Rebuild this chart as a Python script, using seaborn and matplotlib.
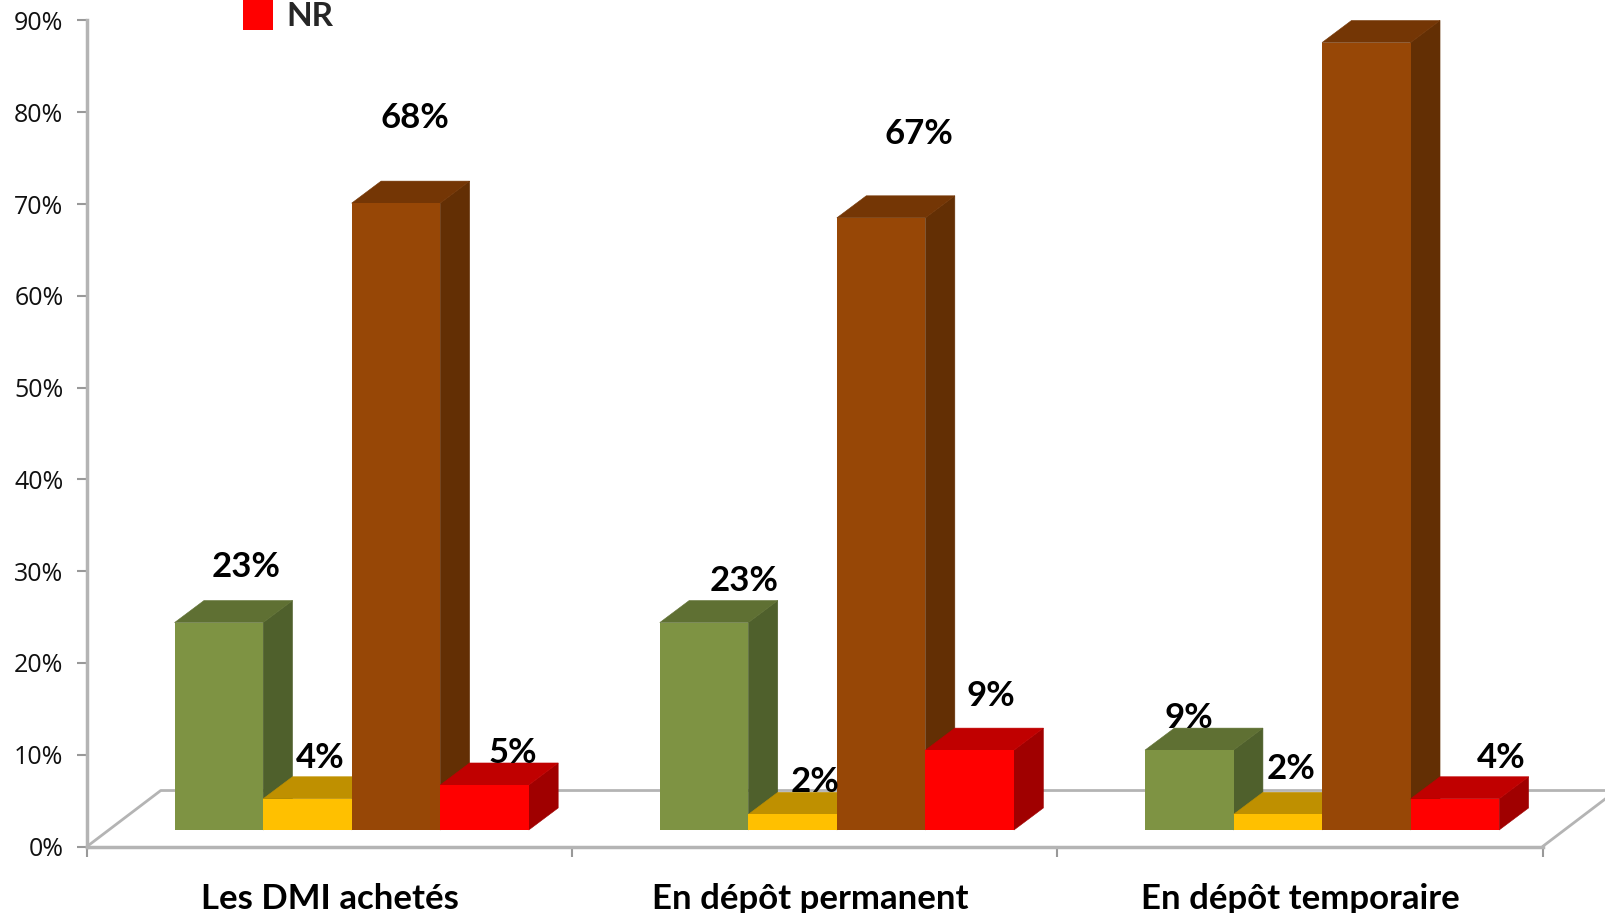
import matplotlib
matplotlib.use('Agg')
import matplotlib.pyplot as plt
from matplotlib.patches import Patch, Polygon
import pandas as pd
import seaborn as sns

# Bar heights (% of answers)
categories = ['Les DMI achetés', 'En dépôt permanent', 'En dépôt temporaire']
series_names = ['Série 1', 'Série 2', 'Série 3', 'NR']
serie_1 = [22.6, 22.6, 8.7]
serie_2 = [3.4, 1.7, 1.7]
serie_3 = [68.3, 66.7, 85.8]
nr = [4.9, 8.7, 3.4]
y_ticks = [0, 10, 20, 30, 40, 50, 60, 70, 80, 90]

# Printed labels (the third brown one is outside the picture)
labels = [
    ['23%', '23%', '9%'],
    ['4%', '2%', '2%'],
    ['68%', '67%', None],
    ['5%', '9%', '4%'],
]

# Label offset from the middle of the bar top, in pixels
label_offsets = [
    [(27, 56), (40, 42), (0, 32)],
    [(13, 41), (22, 32), (13, 45)],
    [(19, 85), (38, 84), None],
    [(28, 32), (21, 54), (46, 41)],
]

# Colours: front, top, side
front_colors = ['#7E9343', '#FFC000', '#974706', '#FF0000']
top_colors = ['#5F7033', '#BF9000', '#743605', '#C00000']
side_colors = ['#4F602C', '#A67C00', '#632F04', '#A00000']

# 3D look, in data units
base_dx, base_dy = 0.0455, 1.8
depth_dx, depth_dy = 0.0606, 2.4
floor_dx, floor_dy = 0.152, 6.1

df = pd.DataFrame({
    'categorie': categories * 4,
    'serie': [s for s in series_names for _ in categories],
    'valeur': serie_1 + serie_2 + serie_3 + nr,
})

sns.set_style('white')
plt.rcParams['font.family'] = ['Open Sans', 'DejaVu Sans']

fig = plt.figure(figsize=(16.05, 9.13), dpi=100)
ax = fig.add_axes([87 / 1605, 1 - 846.5 / 913, 1455.6 / 1605, 826 / 913])

sns.barplot(data=df, x='categorie', y='valeur', hue='serie', hue_order=series_names,
            palette=front_colors, width=0.73, gap=0, dodge=True, legend=False,
            saturation=1, errorbar=None, ax=ax)

grey = '#B4B4B4'

# Floor of the 3D box
ax.plot([-0.5, -0.5 + floor_dx, 2.5 + floor_dx], [0, floor_dy, floor_dy],
        color=grey, lw=2, zorder=1, clip_on=False)
ax.plot([2.5, 2.5 + floor_dx], [0, floor_dy], color=grey, lw=2, zorder=1, clip_on=False)

# Move the seaborn bars onto the floor and add their top and side faces
for i, container in enumerate(ax.containers):
    for j, bar in enumerate(container):
        x0 = bar.get_x() + base_dx
        w = bar.get_width()
        h = bar.get_height()
        bar.set_x(x0)
        bar.set_y(base_dy)
        bar.set_linewidth(0)
        bar.set_zorder(4 + i)
        bar.set_clip_on(False)
        y1 = base_dy + h
        x1 = x0 + w
        top = [(x0, y1), (x1, y1), (x1 + depth_dx, y1 + depth_dy), (x0 + depth_dx, y1 + depth_dy)]
        side = [(x1, base_dy), (x1 + depth_dx, base_dy + depth_dy),
                (x1 + depth_dx, y1 + depth_dy), (x1, y1)]
        ax.add_patch(Polygon(side, facecolor=side_colors[i], edgecolor=side_colors[i], lw=0.4,
                             zorder=3.5 + i, clip_on=False))
        ax.add_patch(Polygon(top, facecolor=top_colors[i], edgecolor=top_colors[i], lw=0.4,
                             zorder=3.6 + i, clip_on=False))

        if labels[i][j] is not None:
            ax.annotate(labels[i][j], xy=(x0 + w / 2, y1), xytext=label_offsets[i][j],
                        textcoords='offset pixels', ha='center', va='center', fontsize=25,
                        fontweight='bold', family='Lato', color='black', zorder=20,
                        annotation_clip=False)

ax.set_xlim(-0.5, 2.5)
ax.set_ylim(0, 90)
ax.set_yticks(y_ticks)
ax.set_yticklabels([f'{v}%' for v in y_ticks], fontsize=18, color='#111111')
ax.set_xticks([0, 0.99, 2])
ax.set_xticklabels(categories, fontsize=25, fontweight='bold', family='Lato', color='black')
ax.set_xticks([-0.5, 0.5, 1.5, 2.5], minor=True)
ax.set_xlabel('')
ax.set_ylabel('')

sns.despine(ax=ax)
for side in ['left', 'bottom']:
    ax.spines[side].set_color(grey)
    ax.spines[side].set_linewidth(2.5)
ax.tick_params(axis='y', which='major', left=True, length=7, width=1.5, color='#999999', pad=10)
ax.tick_params(axis='x', which='major', length=0, pad=26)
ax.tick_params(axis='x', which='minor', bottom=True, length=7, width=1.5, color='#999999')

# Only the last legend entry is left in the crop
fig.legend(handles=[Patch(facecolor=front_colors[3], lw=0, label='NR')],
           loc='upper left', bbox_to_anchor=(243 / 1605, 1.0005), frameon=False,
           prop={'family': 'Lato', 'weight': 'bold', 'size': 24},
           borderpad=0, borderaxespad=0, handlelength=0.9, handleheight=1.05, handletextpad=0.4)

fig.savefig('out.png', dpi=100)
